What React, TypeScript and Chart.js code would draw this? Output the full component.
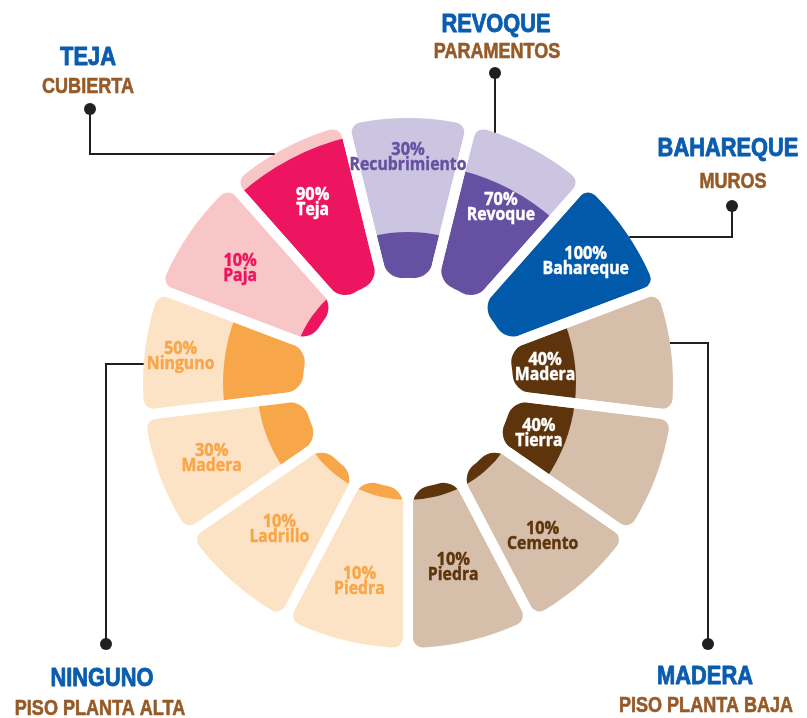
import React, { useEffect, useRef } from 'react';
import { Chart, registerables } from 'chart.js';

Chart.register(...registerables);

// ---------- data ----------
const CATEGORIES = [
  'Recubrimiento', 'Revoque', 'Bahareque', 'Madera', 'Tierra', 'Cemento', 'Piedra',
  'Piedra', 'Ladrillo', 'Madera', 'Ninguno', 'Paja', 'Teja',
];
const PERCENTS = [30, 70, 100, 40, 40, 10, 10, 10, 10, 30, 50, 10, 90];
const GROUPS = [
  'paramentos', 'paramentos', 'muros', 'bajo', 'bajo', 'bajo', 'bajo',
  'alto', 'alto', 'alto', 'alto', 'cubierta', 'cubierta',
];
const FULL_SCALE = CATEGORIES.map(() => 100);

const CALLOUT_TITLES = ['TEJA', 'REVOQUE', 'BAHAREQUE', 'MADERA', 'NINGUNO'];
const CALLOUT_SUBTITLES = ['CUBIERTA', 'PARAMENTOS', 'MUROS', 'PISO PLANTA BAJA', 'PISO PLANTA ALTA'];

// ---------- style / layout ----------
const GROUP_DARK: Record<string, string> = {
  paramentos: '#6650A1',
  muros: '#0059A9',
  bajo: '#5E340C',
  alto: '#F8A64A',
  cubierta: '#ED1560',
};
const GROUP_LIGHT: Record<string, string> = {
  paramentos: '#CBC5E1',
  muros: '#A9C3E2',
  bajo: '#D5BEAA',
  alto: '#FDE3C6',
  cubierta: '#F8C6C6',
};
// radial position of each inner label, in scale (percent) units
const LABEL_AT = [74.7, 58.8, 68.2, 22.4, 23.5, 60.6, 52.4, 60.6, 55.3, 64.7, 75.9, 61.2, 61.8];
const SCALE_MIN = -58.82; // puts the 0% ring at the hole's edge
const GAP = 10;
const TITLE_BLUE = '#0A5DAE';
const SUB_BROWN = '#955A27';
const LINE_COLOR = '#231F20';

type Pt = [number, number];
const CALLOUT_LAYOUT: { title: Pt; sub: Pt; dot: Pt; elbow: Pt | null; dir: 'h' | 'v' }[] = [
  { title: [88, 56], sub: [88, 85], dot: [90, 109], elbow: [90, 154], dir: 'h' },
  { title: [496, 23], sub: [497, 50], dot: [495, 73], elbow: null, dir: 'v' },
  { title: [728, 147], sub: [733, 180], dot: [732, 206], elbow: [732, 237], dir: 'h' },
  { title: [705, 675], sub: [706, 704], dot: [708, 644], elbow: [708, 343], dir: 'h' },
  { title: [102, 677], sub: [100, 707], dot: [106, 644], elbow: [106, 364], dir: 'h' },
];

function drawScaledText(
  ctx: CanvasRenderingContext2D, text: string, x: number, y: number, sx: number, weight: number,
) {
  ctx.save();
  ctx.translate(x, y);
  ctx.scale(sx, 1);
  ctx.fillText(text, 0, 0);
  if (weight > 0) {
    ctx.strokeStyle = ctx.fillStyle as string;
    ctx.lineWidth = weight;
    ctx.lineJoin = 'round';
    ctx.strokeText(text, 0, 0);
  }
  ctx.restore();
}

const ringPlugin = {
  id: 'ringPlugin',
  beforeDatasetDraw(chart: any, args: any) {
    const scale = chart.scales.r;
    const r0 = scale.getDistanceFromCenterForValue(0);
    if (args.index === 0 || args.index === 2) {
      chart.getDatasetMeta(args.index).data.forEach((arc: any) => {
        arc.innerRadius = r0;
      });
    }
    if (args.index === 1) {
      chart.ctx.save();
      chart.ctx.globalCompositeOperation = 'source-atop';
    }
  },
  afterDatasetDraw(chart: any, args: any) {
    if (args.index === 1) chart.ctx.restore();
  },
  afterDraw(chart: any) {
    const ctx: CanvasRenderingContext2D = chart.ctx;
    const scale = chart.scales.r;
    const cx = scale.xCenter;
    const cy = scale.yCenter;
    const meta = chart.getDatasetMeta(2);

    // inner labels
    ctx.save();
    ctx.textAlign = 'center';
    ctx.textBaseline = 'alphabetic';
    ctx.font = 'bold 17px "Open Sans"';
    meta.data.forEach((arc: any, i: number) => {
      const a = (arc.startAngle + arc.endAngle) / 2;
      const r = scale.getDistanceFromCenterForValue(LABEL_AT[i]);
      const x = cx + Math.cos(a) * r;
      const y = cy + Math.sin(a) * r;
      const inDark = LABEL_AT[i] < PERCENTS[i];
      ctx.fillStyle = inDark ? '#FFFFFF' : GROUP_DARK[GROUPS[i]];
      const capHalf = 17 * 0.357;
      drawScaledText(ctx, PERCENTS[i] + '%', x, y - 7.5 + capHalf, 0.96, 0.4);
      drawScaledText(ctx, CATEGORIES[i], x, y + 7.5 + capHalf, 0.93, 0.4);
    });
    ctx.restore();

    // callouts
    const R = scale.getDistanceFromCenterForValue(100) - GAP / 2;
    ctx.save();
    ctx.strokeStyle = LINE_COLOR;
    ctx.fillStyle = LINE_COLOR;
    ctx.lineWidth = 2;
    CALLOUT_LAYOUT.forEach((c, i) => {
      const pts: Pt[] = [c.dot];
      if (c.elbow) pts.push(c.elbow);
      const last = pts[pts.length - 1];
      if (c.dir === 'h') {
        const dy = last[1] - cy;
        const dx = Math.sqrt(Math.max(R * R - dy * dy, 0));
        pts.push([last[0] < cx ? cx - dx : cx + dx, last[1]]);
      } else {
        const dx = last[0] - cx;
        const dy = Math.sqrt(Math.max(R * R - dx * dx, 0));
        pts.push([last[0], last[1] < cy ? cy - dy : cy + dy]);
      }
      ctx.strokeStyle = LINE_COLOR;
      ctx.fillStyle = LINE_COLOR;
      ctx.lineWidth = 2;
      ctx.beginPath();
      ctx.moveTo(pts[0][0], pts[0][1]);
      for (let k = 1; k < pts.length; k++) ctx.lineTo(pts[k][0], pts[k][1]);
      ctx.stroke();
      ctx.beginPath();
      ctx.arc(c.dot[0], c.dot[1], 6, 0, Math.PI * 2);
      ctx.fill();

      ctx.textAlign = 'center';
      ctx.textBaseline = 'alphabetic';
      ctx.font = 'bold 26px "Liberation Sans", Arial, sans-serif';
      ctx.fillStyle = TITLE_BLUE;
      drawScaledText(ctx, CALLOUT_TITLES[i], c.title[0], c.title[1] + 26 * 0.358, 0.84, 0.9);
      ctx.font = 'bold 22px "Liberation Sans", Arial, sans-serif';
      ctx.fillStyle = SUB_BROWN;
      drawScaledText(ctx, CALLOUT_SUBTITLES[i], c.sub[0], c.sub[1] + 22 * 0.358, 0.82, 0.6);
    });
    ctx.restore();
  },
};

export default function App() {
  const canvasRef = useRef<HTMLCanvasElement | null>(null);

  useEffect(() => {
    if (!canvasRef.current) return;
    const radius = { outerStart: 15, outerEnd: 15, innerStart: 25, innerEnd: 25 };
    const chart = new Chart(canvasRef.current, {
      type: 'polarArea',
      data: {
        labels: CATEGORIES,
        datasets: [
          {
            label: 'outline',
            data: FULL_SCALE,
            backgroundColor: 'rgba(0,0,0,0)',
            borderColor: '#FFFFFF',
            borderWidth: GAP,
            borderJoinStyle: 'round',
            borderRadius: radius,
          } as any,
          {
            label: 'porcentaje',
            data: PERCENTS,
            backgroundColor: GROUPS.map((g) => GROUP_DARK[g]),
            borderWidth: 0,
          },
          {
            label: 'total',
            data: FULL_SCALE,
            backgroundColor: GROUPS.map((g) => GROUP_LIGHT[g]),
            borderWidth: 0,
            borderRadius: radius,
          } as any,
        ],
      },
      options: {
        responsive: false,
        animation: false,
        events: [],
        layout: { padding: { left: 138, right: 129, top: 113, bottom: 65 } },
        plugins: { legend: { display: false }, tooltip: { enabled: false } },
        scales: {
          r: {
            display: false,
            min: SCALE_MIN,
            max: 100,
            startAngle: -360 / CATEGORIES.length / 2,
            ticks: { display: false },
            pointLabels: { display: false },
            grid: { display: false },
          },
        },
      } as any,
      plugins: [ringPlugin],
    });
    return () => chart.destroy();
  }, []);

  return (
    <div style={{ position: 'absolute', left: 0, top: 0, width: 807, height: 718, background: '#fff' }}>
      <canvas ref={canvasRef} width={807} height={718} style={{ display: 'block' }} />
    </div>
  );
}
